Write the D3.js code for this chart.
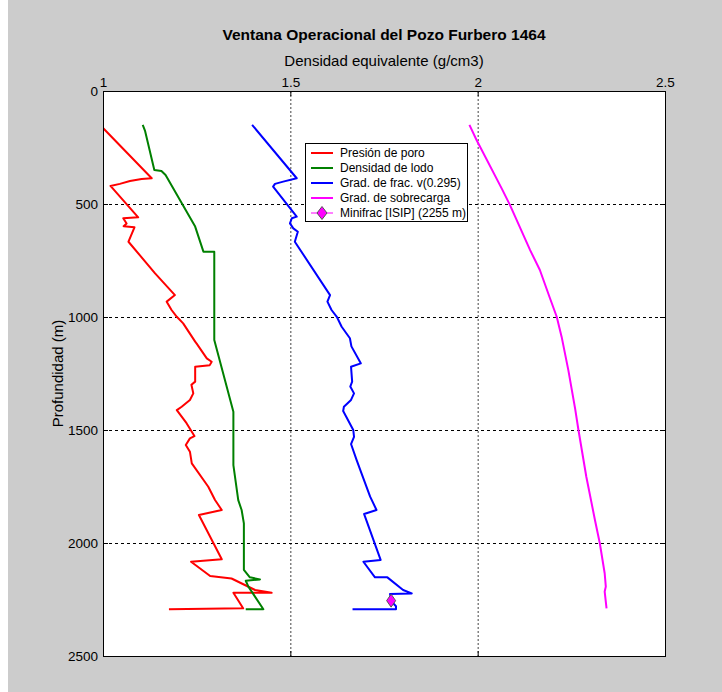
<!DOCTYPE html>
<html>
<head>
<meta charset="utf-8">
<script src="https://cdn.jsdelivr.net/npm/d3@7"></script>
<style>
  body { margin: 0; background: #cccccc; }
  svg { display: block; }
</style>
</head>
<body>
<svg id="chart"></svg>
<script>
// density (g/cm3), depth (m)
var presionPoro = [
  [0.992,150],[1.13,386],[1.103,389],[1.072,398],[1.045,411],[1.02,420],[1.094,559],[1.054,563],
  [1.063,586],[1.055,598],[1.084,603],[1.068,667],[1.139,807],[1.192,903],[1.17,932],[1.183,969],
  [1.197,999],[1.214,1028],[1.246,1109],[1.25,1118],[1.277,1183],[1.29,1198],[1.285,1213],[1.246,1220],
  [1.246,1286],[1.236,1300],[1.241,1338],[1.232,1367],[1.21,1397],[1.197,1412],[1.223,1470],[1.244,1527],
  [1.232,1537],[1.221,1566],[1.232,1596],[1.237,1648],[1.281,1751],[1.299,1810],[1.317,1854],[1.256,1876],
  [1.317,2072],[1.235,2083],[1.286,2146],[1.343,2157],[1.406,2208],[1.45,2220],[1.348,2220],[1.374,2289],
  [1.176,2293]
];
var densidadLodo = [
  [1.106,150],[1.112,175],[1.137,350],[1.156,354],[1.167,372],[1.246,600],[1.268,711],[1.297,711],
  [1.297,1102],[1.348,1419],[1.348,1655],[1.361,1810],[1.37,1854],[1.376,1913],[1.376,2119],[1.392,2152],
  [1.419,2161],[1.381,2167],[1.388,2193],[1.428,2293],[1.381,2293]
];
var gradFrac = [
  [1.398,150],[1.517,386],[1.481,401],[1.459,411],[1.454,423],[1.517,556],[1.504,563],[1.499,586],
  [1.508,608],[1.52,623],[1.512,667],[1.606,903],[1.599,932],[1.61,969],[1.624,999],[1.637,1043],
  [1.659,1094],[1.663,1130],[1.688,1205],[1.662,1220],[1.665,1286],[1.66,1308],[1.67,1338],[1.662,1367],
  [1.643,1397],[1.641,1416],[1.668,1500],[1.67,1530],[1.662,1562],[1.677,1633],[1.69,1692],[1.713,1795],
  [1.73,1854],[1.697,1872],[1.741,2075],[1.695,2083],[1.726,2152],[1.759,2152],[1.801,2208],[1.824,2223],
  [1.766,2226],[1.772,2262],[1.782,2280],[1.782,2293],[1.666,2293]
];
var gradSobrecarga = [
  [1.978,150],[1.997,217],[2.064,431],[2.086,504],[2.14,704],[2.166,792],[2.193,917],[2.211,999],
  [2.224,1087],[2.242,1235],[2.26,1404],[2.269,1500],[2.29,1707],[2.313,1898],[2.326,2001],[2.339,2134],
  [2.342,2193],[2.339,2215],[2.344,2289]
];
var minifrac = [[1.769,2255]];

var xTicks = [1, 1.5, 2, 2.5];
var yTicks = [0, 500, 1000, 1500, 2000, 2500];

var series = [
  { name: "Presión de poro", data: presionPoro, color: "#ff0000" },
  { name: "Densidad de lodo", data: densidadLodo, color: "#008000" },
  { name: "Grad. de frac. v(0.295)", data: gradFrac, color: "#0000ff" },
  { name: "Grad. de sobrecarga", data: gradSobrecarga, color: "#ff00ff" }
];
var markerLabel = "Minifrac [ISIP] (2255 m)";

var W = 722, H = 692;
var margin = { top: 91, right: 57, bottom: 36, left: 103 };
var font = "'Liberation Sans', Arial, sans-serif";

var svg = d3.select("#chart").attr("width", W).attr("height", H);
svg.append("rect").attr("width", W).attr("height", H).attr("fill", "#cccccc");
svg.append("rect").attr("width", 8).attr("height", H).attr("fill", "#ffffff");

var x = d3.scaleLinear().domain([1, 2.5]).range([margin.left, W - margin.right]);
var y = d3.scaleLinear().domain([0, 2500]).range([margin.top, H - margin.bottom]);

svg.append("defs").append("clipPath").attr("id", "plotclip")
  .append("rect")
  .attr("x", x(1)).attr("y", y(0))
  .attr("width", x(2.5) - x(1)).attr("height", y(2500) - y(0));

svg.append("rect")
  .attr("x", x(1)).attr("y", y(0))
  .attr("width", x(2.5) - x(1)).attr("height", y(2500) - y(0))
  .attr("fill", "#ffffff");

// grid
var grid = svg.append("g");
grid.selectAll("line.v").data(xTicks.slice(1, -1)).enter().append("line")
  .attr("x1", function (d) { return x(d) + 0.5; }).attr("x2", function (d) { return x(d) + 0.5; })
  .attr("y1", y(0)).attr("y2", y(2500))
  .attr("stroke", "#444").attr("stroke-dasharray", "2,2");
grid.selectAll("line.h").data(yTicks.slice(1, -1)).enter().append("line")
  .attr("y1", function (d) { return y(d) + 0.5; }).attr("y2", function (d) { return y(d) + 0.5; })
  .attr("x1", x(1)).attr("x2", x(2.5))
  .attr("stroke", "#000").attr("stroke-dasharray", "3,3");

// curves
var line = d3.line()
  .x(function (d) { return x(d[0]); })
  .y(function (d) { return y(d[1]); });

var curves = svg.append("g").attr("clip-path", "url(#plotclip)");
series.forEach(function (s) {
  curves.append("path")
    .attr("d", line(s.data))
    .attr("fill", "none")
    .attr("stroke", s.color)
    .attr("stroke-width", 2)
    .attr("stroke-linejoin", "round");
});

function diamond(cx, cy, w, h) {
  return "M" + cx + "," + (cy - h / 2) + "L" + (cx + w / 2) + "," + cy +
    "L" + cx + "," + (cy + h / 2) + "L" + (cx - w / 2) + "," + cy + "Z";
}
curves.selectAll("path.mk").data(minifrac).enter().append("path")
  .attr("d", function (d) { return diamond(x(d[0]), y(d[1]), 9, 13); })
  .attr("fill", "#ff00ff").attr("stroke", "#555").attr("stroke-width", 1);

// axes
var xAxis = d3.axisTop(x).tickValues(xTicks).tickSize(-5).tickPadding(4)
  .tickFormat(function (d) { return String(d); });
var yAxis = d3.axisLeft(y).tickValues(yTicks).tickSize(-5).tickPadding(5)
  .tickFormat(function (d) { return String(d); });

var gx = svg.append("g").attr("transform", "translate(0," + y(0) + ")").call(xAxis);
var gy = svg.append("g").attr("transform", "translate(" + x(1) + ",0)").call(yAxis);
[gx, gy].forEach(function (g) {
  g.select(".domain").remove();
  g.attr("font-family", font).attr("font-size", 13.5);
  g.selectAll("text").attr("fill", "#000");
  g.selectAll("line").attr("stroke", "#000");
});
// ticks on opposite sides
svg.append("g").attr("transform", "translate(0," + y(2500) + ")")
  .call(d3.axisBottom(x).tickValues(xTicks).tickSize(-5).tickFormat(""))
  .call(function (g) { g.select(".domain").remove(); g.selectAll("line").attr("stroke", "#000"); });
svg.append("g").attr("transform", "translate(" + x(2.5) + ",0)")
  .call(d3.axisRight(y).tickValues(yTicks).tickSize(-5).tickFormat(""))
  .call(function (g) { g.select(".domain").remove(); g.selectAll("line").attr("stroke", "#000"); });

// frame
svg.append("rect")
  .attr("x", x(1) + 0.5).attr("y", y(0) + 0.5)
  .attr("width", x(2.5) - x(1)).attr("height", y(2500) - y(0))
  .attr("fill", "none").attr("stroke", "#000").attr("stroke-width", 1);

// titles
svg.append("text")
  .attr("x", (x(1) + x(2.5)) / 2).attr("y", 40)
  .attr("text-anchor", "middle")
  .attr("font-family", font).attr("font-size", 15.5).attr("font-weight", "bold")
  .text("Ventana Operacional del Pozo Furbero 1464");
svg.append("text")
  .attr("x", (x(1) + x(2.5)) / 2).attr("y", 66)
  .attr("text-anchor", "middle")
  .attr("font-family", font).attr("font-size", 15)
  .text("Densidad equivalente (g/cm3)");
svg.append("text")
  .attr("transform", "translate(63," + (y(0) + y(2500)) / 2 + ") rotate(-90)")
  .attr("text-anchor", "middle")
  .attr("font-family", font).attr("font-size", 15)
  .text("Profundidad (m)");

// legend
var lg = svg.append("g").attr("transform", "translate(305,143)");
lg.append("rect").attr("x", 0.5).attr("y", 0.5).attr("width", 162).attr("height", 78)
  .attr("fill", "#ffffff").attr("stroke", "#000");
var rows = series.map(function (s) { return { name: s.name, color: s.color, marker: false }; });
rows.push({ name: markerLabel, color: "#ff00ff", marker: true });
var row = lg.selectAll("g.row").data(rows).enter().append("g")
  .attr("transform", function (d, i) { return "translate(0," + (10 + i * 15) + ")"; });
row.append("line").attr("x1", 6).attr("x2", 28).attr("y1", 0).attr("y2", 0)
  .attr("stroke", function (d) { return d.color; })
  .attr("stroke-width", function (d) { return d.marker ? 1 : 2; });
row.filter(function (d) { return d.marker; }).append("path")
  .attr("d", diamond(17, 0, 10, 13))
  .attr("fill", "#ff00ff").attr("stroke", "#555");
row.append("text").attr("x", 35).attr("y", 4)
  .attr("font-family", font).attr("font-size", 12)
  .text(function (d) { return d.name; });
</script>
</body>
</html>
